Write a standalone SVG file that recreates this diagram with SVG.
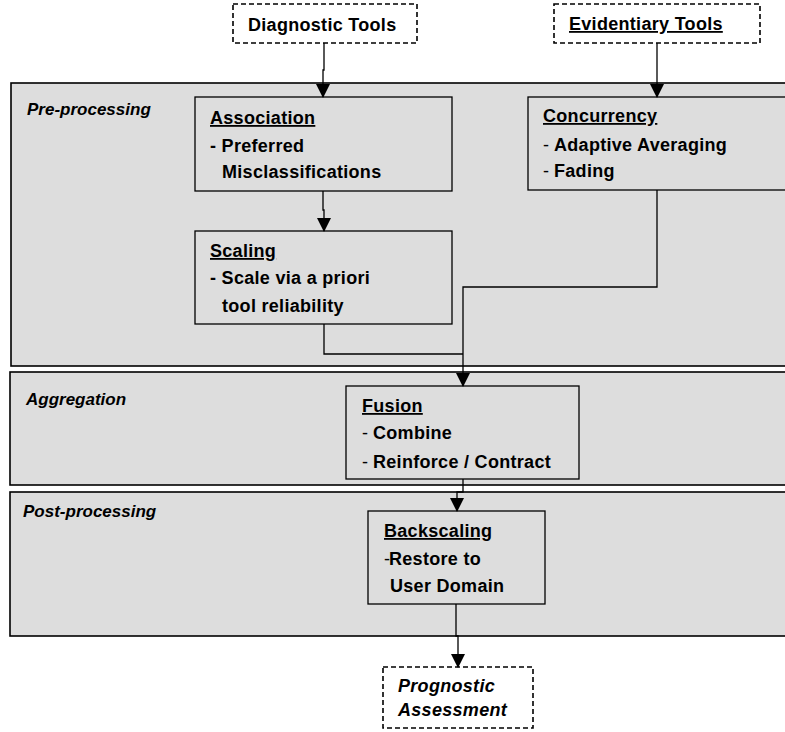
<svg xmlns="http://www.w3.org/2000/svg" width="785" height="732" viewBox="0 0 785 732">
<defs>
<marker id="arr" markerWidth="14" markerHeight="16" refX="13" refY="7" orient="auto" markerUnits="userSpaceOnUse" viewBox="0 0 14 14">
<path d="M0,0 L14,7 L0,14 Z" fill="#000"/>
</marker>
<style>
.band{fill:#dddddd;stroke:#000;stroke-width:1.6}
.box{fill:#dddddd;stroke:#000;stroke-width:1.3}
.dash{fill:#fff;stroke:#000;stroke-width:1.6;stroke-dasharray:5,3}
.t{font-family:"Liberation Sans",Arial,sans-serif;font-size:18px;font-weight:bold;fill:#000;letter-spacing:0.3px}
.lbl{font-family:"Liberation Sans",Arial,sans-serif;font-size:17px;font-weight:bold;font-style:italic;fill:#000}
.u{text-decoration:underline}
.n{font-weight:normal}
.it{font-style:italic}
.c{fill:none;stroke:#000;stroke-width:1.3}
</style>
</defs>

<g id="band-pre"><rect class="band" x="11" y="83" width="780" height="283"/><text class="lbl" x="27" y="115">Pre-processing</text></g>
<g id="band-agg"><rect class="band" x="10" y="372" width="781" height="113"/><text class="lbl" x="26" y="405">Aggregation</text></g>
<g id="band-post"><rect class="band" x="10" y="492" width="781" height="144"/><text class="lbl" x="23" y="517">Post-processing</text></g>

<g id="diagnostic"><rect class="dash" x="233" y="4" width="184" height="39"/><text class="t" x="248" y="31">Diagnostic Tools</text></g>
<g id="evidentiary"><rect class="dash" x="554" y="4" width="206" height="39"/><text class="t u" x="569" y="30">Evidentiary Tools</text></g>

<g id="association"><rect class="box" x="195" y="97" width="257" height="94"/>
<text class="t u" x="210" y="124">Association</text>
<text class="t" x="210" y="152">- Preferred</text>
<text class="t" x="222" y="178">Misclassifications</text></g>

<g id="scaling"><rect class="box" x="195" y="231" width="257" height="93"/>
<text class="t u" x="210" y="257">Scaling</text>
<text class="t" x="210" y="284">- Scale via a priori</text>
<text class="t" x="222" y="312">tool reliability</text></g>

<g id="concurrency"><rect class="box" x="528" y="97" width="262" height="93"/>
<text class="t u" x="543" y="122">Concurrency</text>
<text class="t" x="543" y="151"><tspan class="n">-</tspan><tspan x="554">Adaptive Averaging</tspan></text>
<text class="t" x="543" y="177"><tspan class="n">-</tspan><tspan x="554">Fading</tspan></text></g>

<g id="fusion"><rect class="box" x="346" y="386" width="233" height="93"/>
<text class="t u" x="362" y="412">Fusion</text>
<text class="t" x="362" y="439"><tspan class="n">-</tspan><tspan x="373">Combine</tspan></text>
<text class="t" x="362" y="468"><tspan class="n">-</tspan><tspan x="373">Reinforce / Contract</tspan></text></g>

<g id="backscaling"><rect class="box" x="368" y="511" width="177" height="93"/>
<text class="t u" x="384" y="537">Backscaling</text>
<text class="t" x="384" y="565"><tspan class="n">-</tspan><tspan x="389">Restore to</tspan></text>
<text class="t" x="390" y="592">User Domain</text></g>

<g id="prognostic"><rect class="dash" x="383" y="667" width="150" height="61"/>
<text class="t it" x="398" y="692">Prognostic</text>
<text class="t it" x="398" y="716">Assessment</text></g>

<g id="connectors">
<path class="c" d="M324,43 V70 H323 V97" marker-end="url(#arr)"/>
<path class="c" d="M657,43 V97" marker-end="url(#arr)"/>
<path class="c" d="M323,191 V210 H324 V231" marker-end="url(#arr)"/>
<path class="c" d="M324,324 V354 H463"/>
<path class="c" d="M657,190 V287 H463 V386" marker-end="url(#arr)"/>
<path class="c" d="M463,479 V492 H457 V511" marker-end="url(#arr)"/>
<path class="c" d="M456,604 V636 H458 V667" marker-end="url(#arr)"/>
</g>
</svg>
